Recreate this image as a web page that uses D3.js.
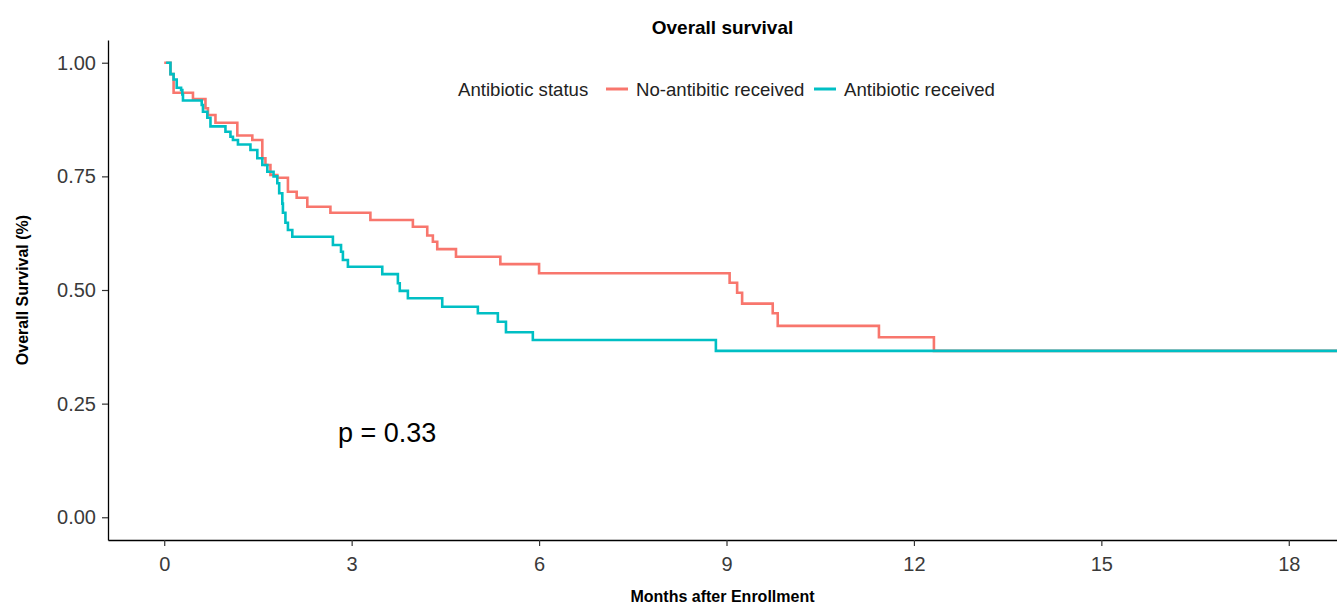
<!DOCTYPE html>
<html>
<head>
<meta charset="utf-8">
<script src="https://cdn.jsdelivr.net/npm/d3@7"></script>
<style>
  body { margin: 0; background: #fff; }
  text { font-family: "Liberation Sans", Arial, sans-serif; }
</style>
</head>
<body>
<svg width="1337" height="604"></svg>
<script>
// survival steps (months, survival after the step)
const noAbxTime = [0, 0.1, 0.15, 0.46, 0.66, 0.7, 0.82, 1.17, 1.41, 1.57, 1.62, 1.7, 1.81, 1.98, 2.12, 2.29,
  2.66, 3.3, 3.98, 4.21, 4.3, 4.37, 4.67, 5.38, 6.0, 9.05, 9.17, 9.25, 9.74, 9.82, 11.44, 12.32, 18.9];
const noAbxSurv = [1.0, 0.975, 0.934, 0.92, 0.9, 0.885, 0.868, 0.84, 0.83, 0.79, 0.775, 0.753, 0.747, 0.716, 0.703, 0.683,
  0.67, 0.654, 0.639, 0.62, 0.606, 0.59, 0.573, 0.557, 0.537, 0.516, 0.494, 0.47, 0.449, 0.421, 0.396, 0.366, 0.366];

const abxTime = [0.03, 0.1, 0.15, 0.2, 0.27, 0.29, 0.3, 0.6, 0.62, 0.69, 0.74, 0.98, 1.06, 1.1, 1.18, 1.38, 1.49,
  1.57, 1.65, 1.75, 1.81, 1.84, 1.89, 1.9, 1.94, 1.98, 2.05, 2.7, 2.83, 2.86, 2.94, 3.49, 3.74, 3.77, 3.9,
  4.45, 5.02, 5.34, 5.47, 5.9, 8.83, 18.9];
const abxSurv = [1.0, 0.975, 0.963, 0.945, 0.94, 0.93, 0.917, 0.907, 0.892, 0.879, 0.86, 0.848, 0.837, 0.83, 0.82, 0.808, 0.79,
  0.775, 0.76, 0.75, 0.735, 0.713, 0.69, 0.67, 0.648, 0.632, 0.617, 0.599, 0.584, 0.566, 0.551, 0.535, 0.515, 0.498, 0.482,
  0.463, 0.449, 0.43, 0.407, 0.39, 0.366, 0.366];

const groups = ['No-antibitic received', 'Antibiotic received'];
const colors = ['#F8766D', '#00BFC4'];
const xTicks = [0, 3, 6, 9, 12, 15, 18];
const yTicks = [0, 0.25, 0.5, 0.75, 1];

(function () {
  const svg = d3.select('svg');
  const left = 108, right = 1345, top = 40, bottom = 540;

  const x = d3.scaleLinear().domain([-0.9, 18.9]).range([left, right]);
  const y = d3.scaleLinear().domain([-0.05, 1.05]).range([bottom, top]);

  // curves
  const series = [
    noAbxTime.map((t, i) => ({t, s: noAbxSurv[i]})),
    abxTime.map((t, i) => ({t, s: abxSurv[i]}))
  ];
  const line = d3.line().x(d => x(d.t)).y(d => y(d.s)).curve(d3.curveStepAfter);

  svg.append('g')
    .selectAll('path')
    .data(series)
    .enter()
    .append('path')
    .attr('d', line)
    .attr('fill', 'none')
    .attr('stroke', (d, i) => colors[i])
    .attr('stroke-width', 2.6);

  // axes
  const xAxis = svg.append('g')
    .attr('transform', `translate(0,${bottom})`)
    .call(d3.axisBottom(x).tickValues(xTicks).tickSize(6).tickPadding(11).tickSizeOuter(0));
  const yAxis = svg.append('g')
    .attr('transform', `translate(${left},0)`)
    .call(d3.axisLeft(y).tickValues(yTicks).tickFormat(d3.format('.2f')).tickSize(6).tickPadding(6).tickSizeOuter(0));

  [xAxis, yAxis].forEach(a => {
    a.select('.domain').attr('stroke', '#000').attr('stroke-width', 1.3);
    a.selectAll('.tick line').attr('stroke', '#333').attr('stroke-width', 1.2);
    a.selectAll('.tick text')
      .attr('fill', '#3a3a3a')
      .style('font-size', '20px')
      .style('font-family', '"Liberation Sans", Arial, sans-serif');
  });

  // titles
  svg.append('text')
    .attr('x', (left + 1337) / 2)
    .attr('y', 34)
    .attr('text-anchor', 'middle')
    .style('font-size', '19px')
    .style('font-weight', 'bold')
    .text('Overall survival');

  svg.append('text')
    .attr('x', (left + 1337) / 2)
    .attr('y', 602)
    .attr('text-anchor', 'middle')
    .style('font-size', '16px')
    .style('font-weight', 'bold')
    .text('Months after Enrollment');

  svg.append('text')
    .attr('transform', `translate(28,${(top + bottom) / 2}) rotate(-90)`)
    .attr('text-anchor', 'middle')
    .style('font-size', '16px')
    .style('font-weight', 'bold')
    .text('Overall Survival (%)');

  // p value
  svg.append('text')
    .attr('x', 338)
    .attr('y', 442)
    .style('font-size', '27px')
    .text('p = 0.33');

  // legend
  const legend = svg.append('g').attr('transform', 'translate(458,96)');
  legend.append('text')
    .attr('x', 0).attr('y', 0)
    .attr('fill', '#222')
    .style('font-size', '18.6px')
    .text('Antibiotic status');
  const legendX = [148, 356];
  groups.forEach((g, i) => {
    legend.append('line')
      .attr('x1', legendX[i]).attr('x2', legendX[i] + 22)
      .attr('y1', -7).attr('y2', -7)
      .attr('stroke', colors[i])
      .attr('stroke-width', 3);
    legend.append('text')
      .attr('x', legendX[i] + 30).attr('y', 0)
      .attr('fill', '#222')
      .style('font-size', '18.6px')
      .text(g);
  });
})();
</script>
</body>
</html>
